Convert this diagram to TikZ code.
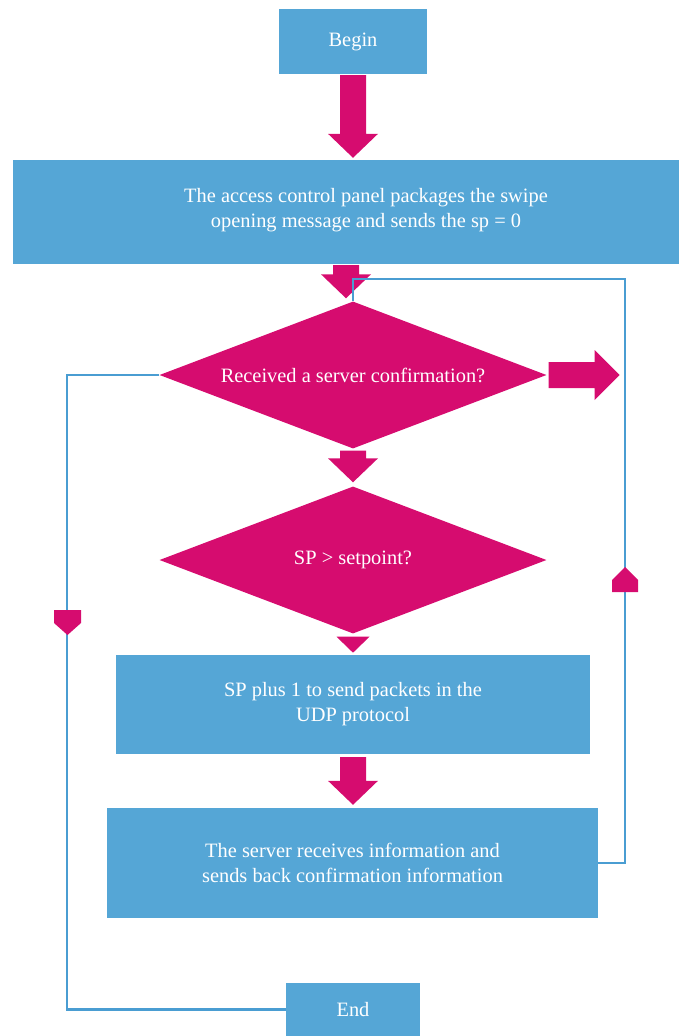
\documentclass[tikz,border=0pt]{standalone}
\usepackage{fontspec}
\setmainfont{Liberation Serif}
\usetikzlibrary{calc}
\usetikzlibrary{shapes.geometric}

\definecolor{boxblue}{RGB}{85,166,214}
\definecolor{lineblue}{RGB}{74,157,210}
\definecolor{pinkfill}{RGB}{214,12,111}

\tikzset{
  blockbox/.style={rectangle,fill=boxblue,text=white,align=center,inner sep=0pt,
                   font=\fontsize{20.4}{25}\selectfont},
  decision/.style={diamond,aspect=2.63,fill=pinkfill,text=white,align=center,inner sep=0pt,
                   minimum width=387pt,minimum height=147pt,font=\fontsize{20.4}{25}\selectfont},
  link/.style={draw=lineblue,line width=2.4pt}
}

% fat down arrow: start point, tip point
\newcommand{\fatdown}[2]{%
  \fill[pinkfill] let \p1=(#1), \p2=(#2) in
    (\x1-13pt,\y1) -- (\x1+13pt,\y1) -- (\x1+13pt,\y2+24pt) -- (\x1+25pt,\y2+24pt)
    -- (\x1,\y2) -- (\x1-25pt,\y2+24pt) -- (\x1-13pt,\y2+24pt) -- cycle;}

\begin{document}
\begin{tikzpicture}[x=1pt,y=-1pt]
\useasboundingbox (0,0) rectangle (679,1036);

\node[blockbox,minimum width=148pt,minimum height=65pt] (begin) at (353,41.5) {Begin};
\node[blockbox,minimum width=666pt,minimum height=104pt] (panel) at (346,212) {};
\node[blockbox,fill=none] (paneltext) at (366,210)
  {The access control panel packages the swipe\\opening message and sends the sp = 0};
\node[decision] (recv) at (353,375) {Received a server confirmation?};
\node[decision] (check) at (353,560) {SP {\textgreater} setpoint?};
\node[blockbox,minimum width=474pt,minimum height=99pt] (plusone) at (353,704.5)
  {SP plus 1 to send packets in the\\UDP protocol};
\node[blockbox,minimum width=491pt,minimum height=110pt] (server) at (352.5,863)
  {The server receives information and\\sends back confirmation information};
\node[blockbox,minimum width=134pt,minimum height=53pt] (stop) at (353,1009.5) {End};

\fatdown{$(begin.south)+(0,1)$}{$(panel.north)+(0,-2)$}
\fatdown{$(panel.south)+(0,1)$}{$(recv.north)+(0,-3)$}
\fatdown{$(recv.south)+(0,2)$}{$(check.north)+(0,-4)$}
\fatdown{$(plusone.south)+(0,3)$}{$(server.north)+(0,-3)$}
\fill[pinkfill] let \p1=($(check.south)+(0,3)$) in
  (\x1-16.5pt,\y1) -- (\x1+16.5pt,\y1) -- (\x1,\y1-16pt) -- cycle;

% right fat arrow out of the first decision
\fill[pinkfill] let \p1=($(recv.east)+(2,0)$) in
  (\x1,\y1+13pt) -- (\x1+46pt,\y1+13pt) -- (\x1+46pt,\y1+25pt) -- (\x1+71pt,\y1)
  -- (\x1+46pt,\y1-25pt) -- (\x1+46pt,\y1-13pt) -- (\x1,\y1-13pt) -- cycle;

% loop lines
\coordinate (lcorner) at (67,375);
\coordinate (rtop) at (625,279);
\draw[link] (recv.west) -- (lcorner) |- (stop.west);
\draw[link] (server.east) -| (rtop) -| (recv.north);

% direction marks on the loop lines
\fill[pinkfill] (54,610) -- (81,610) -- (81,623) -- (67.5,635) -- (54,623) -- cycle;
\fill[pinkfill] (612,592) -- (638,592) -- (638,580) -- (625,567) -- (612,580) -- cycle;
\end{tikzpicture}
\end{document}
